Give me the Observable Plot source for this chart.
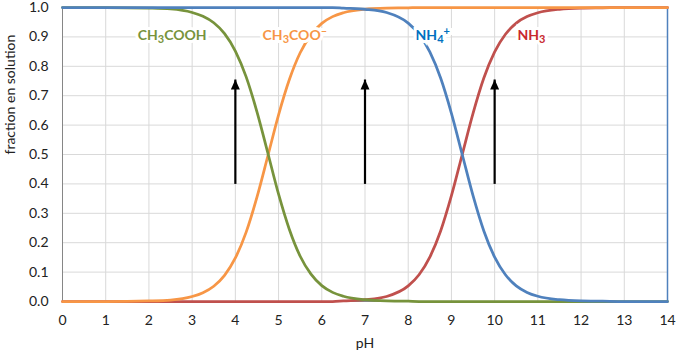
<!DOCTYPE html>
<html>
<head>
<meta charset="utf-8">
<script src="https://cdn.jsdelivr.net/npm/d3@7"></script>
<script src="https://cdn.jsdelivr.net/npm/@observablehq/plot@0.6"></script>
<style>
  html, body { margin: 0; padding: 0; background: #fff; }
  #chart svg { display: block; }
</style>
</head>
<body>
<div id="chart"></div>
<script>
// ---- data ----
const pH = [0,1,2,2.5,3,3.25,3.5,3.75,4,4.25,4.5,4.75,5,5.25,5.5,5.75,6,6.25,6.5,7,7.5,8,8.25,8.5,8.75,9,9.25,9.5,9.75,10,10.25,10.5,10.75,11,11.5,12,12.5,13,14];

const CH3COOH = [1,1,0.998,0.995,0.983,0.970,0.948,0.911,0.852,0.764,0.645,0.506,0.365,0.245,0.154,0.093,0.054,0.031,0.018,0.006,0.002,0.001,0,0,0,0,0,0,0,0,0,0,0,0,0,0,0,0,0];
const CH3COO  = [0,0,0.002,0.005,0.017,0.030,0.052,0.089,0.148,0.236,0.355,0.494,0.635,0.755,0.846,0.907,0.946,0.969,0.982,0.994,0.998,0.999,1,1,1,1,1,1,1,1,1,1,1,1,1,1,1,1,1];
const NH4     = [1,1,1,1,1,1,1,1,1,1,1,1,1,1,1,1,1,1,0.998,0.994,0.983,0.947,0.909,0.849,0.760,0.640,0.500,0.360,0.240,0.151,0.091,0.053,0.031,0.018,0.006,0.002,0.001,0,0];
const NH3     = [0,0,0,0,0,0,0,0,0,0,0,0,0,0,0,0,0,0,0.002,0.006,0.017,0.053,0.091,0.151,0.240,0.360,0.500,0.640,0.760,0.849,0.909,0.947,0.969,0.982,0.994,0.998,0.999,1,1];

const xTicks = [0,1,2,3,4,5,6,7,8,9,10,11,12,13,14];
const yTicks = [0,0.1,0.2,0.3,0.4,0.5,0.6,0.7,0.8,0.9,1.0];

const labelText = ["CH3COOH", "CH3COO-", "NH4+", "NH3"];
const labelX    = [1.74, 4.63, 8.17, 10.53];
const labelY    = [0.905, 0.905, 0.905, 0.905];

const arrowX    = [4, 7, 10];
const arrowFrom = 0.4;
const arrowTo   = 0.755;

// ---- styles ----
const lineColors  = ["#77933c", "#f79646", "#4f81bd", "#c0504d"];
const labelColors = ["#77933c", "#f79646", "#0070c0", "#c8282d"];
const seriesList  = [CH3COOH, CH3COO, NH4, NH3];
const drawOrder   = [3, 1, 0, 2];

const seriesData = seriesList.map(s => pH.map((x, i) => ({x, y: s[i]})));
const arrows = arrowX.map(x => ({x, y1: arrowFrom, y2: arrowTo}));

const arrowHead = {
  draw(context) {
    context.moveTo(0, 0);
    context.lineTo(4.5, 10);
    context.lineTo(-4.5, 10);
    context.closePath();
  }
};

const labelOpts = k => ({x: labelX[k], y: labelY[k], text: d => d, textAnchor: "start", fontSize: 14, fontWeight: "bold"});

const marks = [
  Plot.ruleX(xTicks, {stroke: "#d9d9d9", strokeWidth: 1}),
  Plot.ruleY(yTicks, {stroke: "#d9d9d9", strokeWidth: 1}),
  Plot.ruleX([0], {stroke: "#868686", strokeWidth: 1}),
  Plot.ruleY([0], {stroke: "#868686", strokeWidth: 1}),
  Plot.ruleX([14], {stroke: "#4f81bd", strokeWidth: 1.5}),
  ...drawOrder.map(k => Plot.line(seriesData[k], {
    x: "x", y: "y", stroke: lineColors[k], strokeWidth: 2.75, curve: "monotone-x"
  })),
  Plot.link(arrows, {x1: "x", x2: "x", y1: "y1", y2: "y2", stroke: "#000", strokeWidth: 2.2}),
  Plot.dot(arrows, {x: "x", y: "y2", symbol: arrowHead, fill: "#000", stroke: "none"}),
  // white boxes behind labels
  ...labelText.map((t, k) => Plot.text([t], {...labelOpts(k), fill: "#fff", stroke: "#fff", strokeWidth: 6, strokeLinejoin: "miter"})),
  ...labelText.map((t, k) => Plot.text([t], {...labelOpts(k), fill: labelColors[k]})),
  Plot.text(["pH"], {frameAnchor: "bottom", dy: 46, fontSize: 14, fill: "#222"}),
  Plot.text(["fraction en solution"], {frameAnchor: "left", dx: -52, rotate: -90, fontSize: 14, fill: "#222"})
];

const chart = Plot.plot({
  width: 677,
  height: 353,
  marginLeft: 62,
  marginRight: 10,
  marginTop: 7,
  marginBottom: 52,
  style: {fontFamily: "Lato, 'Open Sans', sans-serif", fontSize: "14px", color: "#222", background: "#fff", overflow: "visible"},
  x: {domain: [0, 14], ticks: xTicks, tickSize: 0, tickPadding: 14, label: null},
  y: {domain: [0, 1], ticks: yTicks, tickFormat: d3.format(".1f"), tickSize: 0, tickPadding: 14, label: null},
  marks
});

// sub/superscripts for chemical labels
const ns = "http://www.w3.org/2000/svg";
chart.querySelectorAll("text").forEach(el => {
  const s = el.textContent;
  if (!labelText.includes(s)) return;
  el.textContent = "";
  let shift = 0;
  s.match(/[A-Za-z]+|\d+|[+\-]/g).forEach(tok => {
    const ts = document.createElementNS(ns, "tspan");
    let target = 0, size = null;
    if (/^\d+$/.test(tok)) { target = 3.5; size = 11; }
    else if (/^[+\-]$/.test(tok)) { target = -5; size = 11; }
    ts.setAttribute("dy", target - shift);
    shift = target;
    if (size) ts.setAttribute("font-size", size);
    ts.textContent = tok === "-" ? "\u2013" : tok;
    el.appendChild(ts);
  });
});

document.getElementById("chart").appendChild(chart);
</script>
</body>
</html>
